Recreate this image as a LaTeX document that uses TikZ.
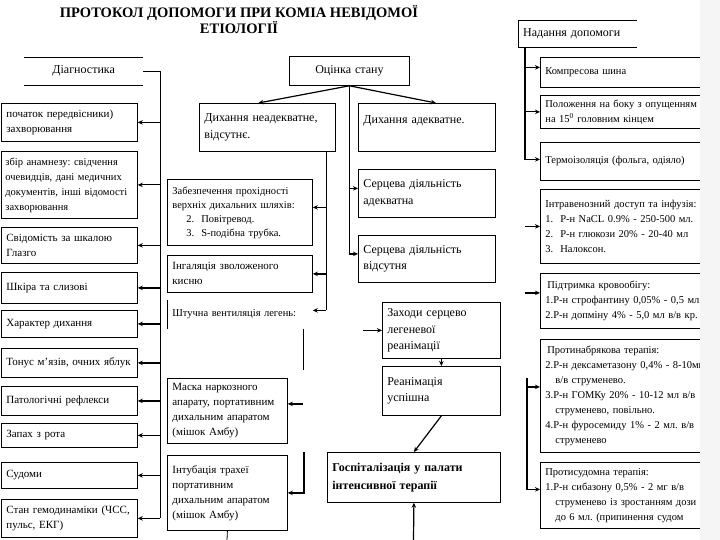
\documentclass[tikz,border=0pt]{standalone}
\usepackage{fontspec}
\setmainfont{Liberation Serif}
\usetikzlibrary{arrows.meta,calc}
\definecolor{bandgray}{gray}{0.96}
\frenchspacing

\begin{document}
\begin{tikzpicture}[
  x=1pt, y=-1pt,
  box/.style 2 args={draw, line width=0.8pt, anchor=north west, align=left, inner xsep=5pt, inner ysep=1pt, text width=#1, minimum height=#2},
  fsm/.style={font=\fontsize{10.5}{14}\selectfont},
  fmd/.style={font=\fontsize{10.5}{15}\selectfont},
  flg/.style={font=\fontsize{11}{15}\selectfont},
  fxl/.style={font=\fontsize{12}{16.5}\selectfont},
  line/.style={line width=0.8pt},
  arr/.style={-{Stealth[length=5pt,width=4.5pt]}, line width=1.2pt},
]
  \useasboundingbox (0,0) rectangle (720,540);

  % title
  \node[font=\fontsize{14.5}{16}\selectfont\bfseries, align=center] (title) at (239,20)
    {ПРОТОКОЛ ДОПОМОГИ ПРИ КОМІА НЕВІДОМОЇ\\ЕТІОЛОГІЇ};

  % Діагностика
  \node[fxl, anchor=north west, minimum width=119pt, minimum height=28pt] (diag) at (24,57) {Діагностика};
  \draw[line] (diag.north west) -- (diag.north east) (diag.south west) -- (diag.south east);

  \node[box={126pt}{38pt}, flg] (d1) at (1,103) {початок передвісники)\\захворювання};
  \node[box={128pt}{67pt}, fmd, inner xsep=4pt] (d2) at (1,151) {збір анамнезу: свідчення\\очевидців, дані медичних\\документів, інші відомості\\захворювання};
  \node[box={126pt}{36pt}, flg] (d3) at (1,227) {Свідомість за шкалою\\Глазго};
  \node[box={126pt}{31pt}, flg] (d4) at (1,272) {Шкіра та слизові};
  \node[box={126pt}{27pt}, flg] (d5) at (1,310) {Характер дихання};
  \node[box={126pt}{29pt}, flg] (d6) at (1,348) {Тонус м'язів, очних яблук};
  \node[box={126pt}{29pt}, flg] (d7) at (1,386) {Патологічні рефлекси};
  \node[box={126pt}{24pt}, flg] (d8) at (1,423) {Запах з рота};
  \node[box={126pt}{26pt}, flg] (d9) at (1,462) {Судоми};
  \node[box={126pt}{38pt}, flg] (d10) at (1,499) {Стан гемодинаміки (ЧСС,\\пульс, ЕКГ)};

  \coordinate (dtr) at (160,0);
  \draw[line] (diag.east) -| (d10.east -| dtr);
  \foreach \i in {1,...,10}
    \draw[arr] (d\i.east -| dtr) -- (d\i.east);

  % Оцінка стану
  \node[box={110pt}{29pt}, fxl, align=center] (ocin) at (289,56) {Оцінка стану};

  \node[box={126pt}{48pt}, fxl] (dyhneg) at (199,103) {Дихання неадекватне,\\відсутнє.};
  \node[box={127pt}{48pt}, fxl] (dyhad) at (358,103) {Дихання адекватне.\\\mbox{}};
  \node[box={127pt}{48pt}, fxl] (sa) at (358,169) {Серцева діяльність\\адекватна};
  \node[box={127pt}{47pt}, fxl] (sv) at (358,235) {Серцева діяльність\\відсутня};

  \draw[arr] (ocin.south) -- ([xshift=-9pt]dyhneg.north);
  \draw[arr] (ocin.south) -- ([xshift=9pt]dyhad.north);
  \draw[line] (ocin.south) -- ([yshift=5pt]sv.west -| ocin.south);
  \draw[arr] ([yshift=5pt]sa.west -| ocin.south) -- ([yshift=5pt]sa.west);
  \draw[arr] ([yshift=5pt]sv.west -| ocin.south) -- ([yshift=5pt]sv.west);

  % дихання неадекватне
  \node[box={135pt}{66pt}, fsm] (zab) at (167,179) {Забезпечення прохідності\\верхніх дихальних шляхів:\\\hspace*{14pt}2.\ \ Повітревод.\\\hspace*{14pt}3.\ \ S-подібна трубка.};
  \node[box={135pt}{37pt}, flg] (ing) at (167,255) {Інгаляція зволоженого\\кисню};
  \node[box={135pt}{28pt}, draw=none, fmd] (shtv) at (167,300) {Штучна вентиляція легень:};
  \draw[line] (shtv.north west) -- (shtv.south west);
  \node[box={110pt}{65pt}, flg] (mask) at (167,378) {Маска наркозного\\апарату, портативним\\дихальним апаратом\\(мішок Амбу)};
  \node[box={110pt}{75pt}, flg] (intub) at (167,455) {Інтубація трахеї\\портативним\\дихальним апаратом\\(мішок Амбу)};

  \coordinate (mtr) at (326,0);
  \draw[line] (dyhneg.south -| mtr) -- ([yshift=4pt]shtv.east -| mtr);
  \draw[arr] ([yshift=5pt]zab.east -| mtr) -- ([yshift=5pt]zab.east);
  \draw[arr] (ing.east -| mtr) -- (ing.east);
  \draw[arr] ([yshift=4pt]shtv.east -| mtr) -- ([yshift=4pt]shtv.east);

  \coordinate (vfr) at (303,370);
  \draw[line] (shtv.south -| vfr) -- (vfr);
  \draw[arr] ([yshift=7pt]mask.east -| vfr) -- ([yshift=7pt]mask.east);
  \coordinate (ifr) at (304,452);
  \draw[arr] (ifr) |- (intub.east);
  \coordinate (bot1) at (227,540);
  \draw[line] (intub.south) -- (bot1);

  % реанімація
  \node[box={108pt}{56pt}, fxl] (zah) at (382,302) {Заходи серцево\\легеневої\\реанімації};
  \node[box={108pt}{49pt}, fxl] (rean) at (382,366) {Реанімація\\успішна};
  \node[box={163pt}{50pt}, font=\fontsize{12}{18}\selectfont\bfseries] (hosp) at (327,452) {Госпіталізація у палати\\інтенсивної терапії};

  \coordinate (zfree) at (363,0);
  \draw[arr] (zah.west -| zfree) -- (zah.west);
  \draw[arr] (zah.south) -- (rean.north);
  \draw[arr] (rean.south) -- (hosp.north);
  \coordinate (bot2) at (413.5,540);
  \draw[arr] (bot2) -- (hosp.south);

  % Надання допомоги
  \node[fxl, anchor=north west, align=left, text width=109pt, minimum height=27pt, inner xsep=5pt] (nad) at (518,20) {Надання допомоги};
  \draw[line] (nad.north east) -- (nad.north west) -- (nad.south west) -- (nad.south east);

  \node[box={165pt}{30pt}, fmd] (komp) at (540,57) {Компресова шина};
  \node[box={165pt}{33pt}, fmd] (pol) at (540,95) {Положення на боку з опущенням\\на 15\textsuperscript{0} головним кінцем};
  \node[box={165pt}{38pt}, fmd] (term) at (540,142) {Термоізоляція (фольга, одіяло)};
  \node[box={165pt}{74pt}, fmd] (intr) at (540,189) {Інтравенозний доступ та інфузія:\\1.\ \ Р-н NaCL 0.9\% - 250-500 мл.\\2.\ \ Р-н глюкози 20\% - 20-40 мл\\3.\ \ Налоксон.};
  \node[box={165pt}{55pt}, fmd] (pidtr) at (540,273) {\hspace*{2pt}Підтримка кровообігу:\\1.Р-н строфантину 0,05\% - 0,5 мл.\\2.Р-н допміну 4\% - 5,0 мл в/в кр.};
  \node[box={165pt}{113pt}, fmd] (pnb) at (540,339) {\hspace*{2pt}Протинабрякова терапія:\\2.Р-н дексаметазону 0,4\% - 8-10мг\\\hspace*{10pt}в/в струменево.\\3.Р-н ГОМКу 20\% - 10-12 мл в/в\\\hspace*{10pt}струменево, повільно.\\4.Р-н фуросемиду 1\% - 2 мл. в/в\\\hspace*{10pt}струменево};
  \node[box={165pt}{66pt}, fmd] (psud) at (540,462) {Протисудомна терапія:\\1.Р-н сибазону 0,5\% - 2 мг в/в\\\hspace*{10pt}струменево із зростанням дози\\\hspace*{10pt}до 6 мл. (припинення судом};

  \coordinate (rtr) at (525,0);
  \draw[arr] (nad.south -| rtr) |- ([yshift=2pt]term.west);
  \draw[arr] ([yshift=5pt]komp.west -| rtr) -- ([yshift=5pt]komp.west);
  \draw[arr] (pol.west -| rtr) -- (pol.west);
  \draw[arr] (intr.west -| rtr) -- (intr.west);
  \draw[arr] ([yshift=8pt]pidtr.west -| rtr) -- ([yshift=8pt]pidtr.west);
  \coordinate (rtr2) at (527,378);
  \draw[arr] ([yshift=9pt]pnb.west -| rtr2) -- ([yshift=9pt]pnb.west);
  \draw[arr] (rtr2) |- ([yshift=6pt]psud.west);

  % cut-off edge of the slide
  \fill[bandgray] (700,0) rectangle (720,540);
\end{tikzpicture}
\end{document}
